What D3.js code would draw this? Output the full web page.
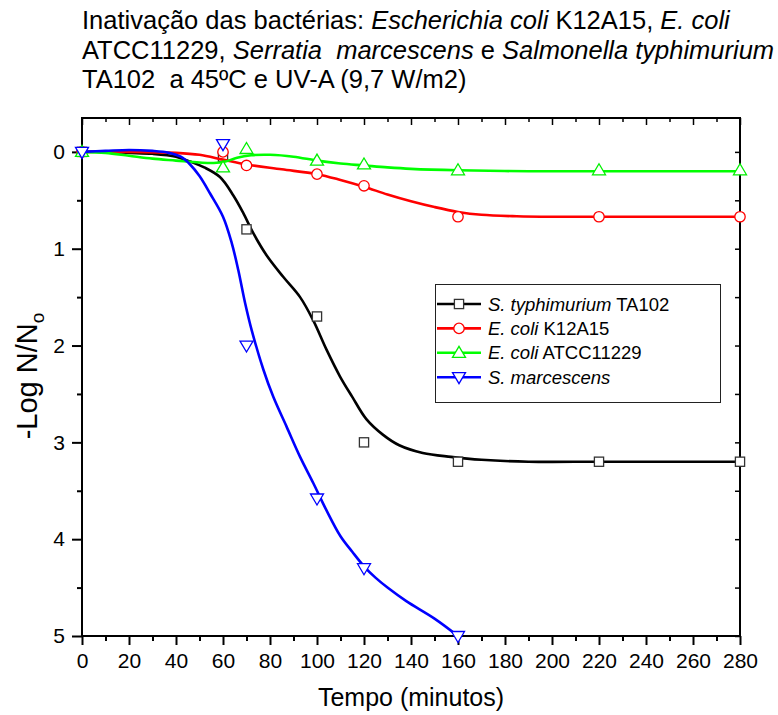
<!DOCTYPE html>
<html>
<head>
<meta charset="utf-8">
<script src="https://cdn.jsdelivr.net/npm/d3@7"></script>
<style>
  html, body { margin: 0; padding: 0; background: #fff; }
  svg text { font-family: "Liberation Sans", Arial, sans-serif; }
</style>
</head>
<body>
<svg id="chart" width="778" height="715"></svg>
<script>
// Sampling times (minutes) of the measured points
const timesTyphi = [0, 60, 70, 100, 120, 160, 220, 280];
const valuesTyphi = [0, 0.05, 0.8, 1.7, 3.0, 3.2, 3.2, 3.2];

const timesK12 = [0, 60, 70, 100, 120, 160, 220, 280];
const valuesK12 = [0, 0.0, 0.14, 0.23, 0.35, 0.67, 0.67, 0.67];

const timesATCC = [0, 60, 70, 100, 120, 160, 220, 280];
const valuesATCC = [0, 0.16, -0.03, 0.09, 0.13, 0.19, 0.19, 0.19];

const timesMarc = [0, 60, 70, 100, 120, 160];
const valuesMarc = [0, -0.08, 2.0, 3.58, 4.3, 5.0];

// Fitted curves (time, -log N/No)
const fitTyphiT = [0, 10, 20, 30, 40, 46, 52, 58.7, 64.4, 68.6, 72.9, 78.6, 85.6, 92.8, 98.4, 104, 109.8, 115, 121, 128, 135, 145, 157, 170, 190, 220, 250, 280];
const fitTyphiV = [0, 0.0, 0.01, 0.02, 0.05, 0.1, 0.16, 0.26, 0.45, 0.63, 0.84, 1.07, 1.29, 1.5, 1.74, 2.04, 2.32, 2.53, 2.76, 2.92, 3.03, 3.11, 3.15, 3.18, 3.2, 3.2, 3.2, 3.2];

const fitK12T = [0, 20, 40, 50, 60, 70, 85, 100, 110, 120, 130, 140, 150, 160, 170, 185, 200, 240, 280];
const fitK12V = [0, 0.0, 0.01, 0.03, 0.08, 0.13, 0.18, 0.23, 0.29, 0.36, 0.44, 0.51, 0.57, 0.62, 0.65, 0.665, 0.67, 0.67, 0.67];

const fitATCCT = [0, 10, 20, 30, 40, 50, 56, 61, 66, 72, 80, 90, 100, 110, 120, 130, 140, 160, 190, 220, 280];
const fitATCCV = [0, 0.01, 0.04, 0.07, 0.09, 0.11, 0.115, 0.1, 0.06, 0.035, 0.03, 0.05, 0.09, 0.12, 0.14, 0.16, 0.175, 0.19, 0.2, 0.2, 0.2];

const fitMarcT = [0, 10, 20, 30, 37, 42, 46, 50, 54.5, 60, 63.7, 66.5, 69.4, 72.2, 77.2, 81.4, 87.1, 92.8, 98.4, 104, 110, 115, 120, 125, 130, 138, 150, 160];
const fitMarcV = [0, -0.01, -0.02, -0.01, 0.01, 0.05, 0.13, 0.25, 0.43, 0.67, 0.94, 1.22, 1.56, 1.84, 2.25, 2.53, 2.84, 3.15, 3.42, 3.7, 3.97, 4.13, 4.28, 4.4, 4.5, 4.64, 4.82, 5.0];

const xTicks = [0, 20, 40, 60, 80, 100, 120, 140, 160, 180, 200, 220, 240, 260, 280];
const yTicks = [0, 1, 2, 3, 4, 5];

const series = [
  { label: ["S. typhimurium", " TA102"], color: "#000000", stroke: "#333333", symbol: "square",
    t: timesTyphi, v: valuesTyphi, ft: fitTyphiT, fv: fitTyphiV },
  { label: ["E. coli", " K12A15"], color: "#ff0000", stroke: "#ff0000", symbol: "circle",
    t: timesK12, v: valuesK12, ft: fitK12T, fv: fitK12V },
  { label: ["E. coli", " ATCC11229"], color: "#00ff00", stroke: "#00f000", symbol: "up",
    t: timesATCC, v: valuesATCC, ft: fitATCCT, fv: fitATCCV },
  { label: ["S. marcescens", ""], color: "#0000ff", stroke: "#0000ff", symbol: "down",
    t: timesMarc, v: valuesMarc, ft: fitMarcT, fv: fitMarcV }
];

(function draw() {
  const svg = d3.select("#chart");
  const pLeft = 82, pRight = 740, pTop = 118, pBottom = 636;

  const x = d3.scaleLinear().domain([0, 280]).range([pLeft, pRight]);
  const y = d3.scaleLinear().domain([-0.35, 5]).range([pTop, pBottom]);

  // Title
  const title = svg.append("g").attr("font-size", 25.5).attr("fill", "#000");
  const titleLines = [
    [["Inativação das bactérias: ", false], ["Escherichia coli", true], [" K12A15, ", false], ["E. coli", true]],
    [["ATCC11229, ", false], ["Serratia  marcescens", true], [" e ", false], ["Salmonella typhimurium", true]],
    [["TA102  a 45ºC e UV-A (9,7 W/m2)", false]]
  ];
  titleLines.forEach((parts, i) => {
    const t = title.append("text").attr("x", 82).attr("y", 29 + i * 29.5)
      .attr("xml:space", "preserve").style("white-space", "pre");
    parts.forEach(([s, it]) => t.append("tspan").attr("font-style", it ? "italic" : "normal").text(s));
  });

  // Frame
  svg.append("rect").attr("x", pLeft).attr("y", pTop).attr("width", pRight - pLeft).attr("height", pBottom - pTop)
    .attr("fill", "none").attr("stroke", "#000").attr("stroke-width", 2);

  const xMinor = d3.range(10, 280, 20);
  const yMinor = [0.5, 1.5, 2.5, 3.5, 4.5];

  // Bottom axis
  const gx = svg.append("g").attr("transform", `translate(0,${pBottom})`)
    .call(d3.axisBottom(x).tickValues(xTicks).tickSize(9).tickPadding(8).tickFormat(d3.format("d")));
  gx.select(".domain").remove();
  gx.selectAll("line").attr("stroke-width", 2);
  gx.selectAll("text").attr("font-size", 21).attr("font-family", "Liberation Sans, Arial, sans-serif");
  const gxm = svg.append("g").attr("transform", `translate(0,${pBottom})`)
    .call(d3.axisBottom(x).tickValues(xMinor).tickSize(5).tickFormat(""));
  gxm.select(".domain").remove();
  gxm.selectAll("line").attr("stroke-width", 2);

  // Left axis
  const gy = svg.append("g").attr("transform", `translate(${pLeft},0)`)
    .call(d3.axisLeft(y).tickValues(yTicks).tickSize(10).tickPadding(7).tickFormat(d3.format("d")));
  gy.select(".domain").remove();
  gy.selectAll("line").attr("stroke-width", 2);
  gy.selectAll("text").attr("font-size", 21).attr("font-family", "Liberation Sans, Arial, sans-serif");
  const gym = svg.append("g").attr("transform", `translate(${pLeft},0)`)
    .call(d3.axisLeft(y).tickValues(yMinor).tickSize(5).tickFormat(""));
  gym.select(".domain").remove();
  gym.selectAll("line").attr("stroke-width", 2);

  // Top and right mirror axes with inward ticks
  const gt = svg.append("g").attr("transform", `translate(0,${pTop})`)
    .call(d3.axisBottom(x).tickValues(xTicks).tickSize(7).tickFormat(""));
  gt.select(".domain").remove();
  gt.selectAll("line").attr("stroke-width", 1.5);
  const gtm = svg.append("g").attr("transform", `translate(0,${pTop})`)
    .call(d3.axisBottom(x).tickValues(xMinor).tickSize(4).tickFormat(""));
  gtm.select(".domain").remove();
  gtm.selectAll("line").attr("stroke-width", 1.5);
  const gr = svg.append("g").attr("transform", `translate(${pRight},0)`)
    .call(d3.axisLeft(y).tickValues(yTicks.concat(yMinor)).tickSize(5).tickFormat(""));
  gr.select(".domain").remove();
  gr.selectAll("line").attr("stroke-width", 1.5);

  // Axis titles
  svg.append("text").attr("x", 411).attr("y", 706).attr("text-anchor", "middle")
    .attr("font-size", 25).text("Tempo (minutos)");
  const yt = svg.append("text").attr("transform", "translate(37,376) rotate(-90)")
    .attr("text-anchor", "middle").attr("font-size", 29);
  yt.append("tspan").text("-Log N/N");
  yt.append("tspan").attr("font-size", 19).attr("dy", 7).text("o");

  // Marker symbols
  function drawMarker(g, s, cx, cy) {
    const common = el => el.attr("fill", "#fff").attr("stroke", s.stroke).attr("stroke-width", 1.3);
    if (s.symbol === "square") {
      common(g.append("rect").attr("x", cx - 4.6).attr("y", cy - 4.6).attr("width", 9.2).attr("height", 9.2));
    } else if (s.symbol === "circle") {
      common(g.append("circle").attr("cx", cx).attr("cy", cy).attr("r", 5.2));
    } else if (s.symbol === "up") {
      common(g.append("path").attr("d", `M${cx},${cy - 6.5}L${cx + 6.5},${cy + 4.5}L${cx - 6.5},${cy + 4.5}Z`));
    } else {
      common(g.append("path").attr("d", `M${cx},${cy + 6.5}L${cx + 6.5},${cy - 4.5}L${cx - 6.5},${cy - 4.5}Z`));
    }
  }

  const line = d3.line().x(d => x(d[0])).y(d => y(d[1])).curve(d3.curveCatmullRom.alpha(0.5));

  series.forEach(s => {
    const g = svg.append("g");
    const fit = s.ft.map((t, i) => [t, s.fv[i]]);
    g.append("path").datum(fit).attr("d", line).attr("fill", "none")
      .attr("stroke", s.color).attr("stroke-width", 2.6).attr("stroke-linejoin", "round");
    s.t.forEach((t, i) => drawMarker(g, s, x(t), y(s.v[i])));
  });

  // Legend
  const lg = svg.append("g");
  lg.append("rect").attr("x", 435.5).attr("y", 284.5).attr("width", 285).attr("height", 118)
    .attr("fill", "#fff").attr("stroke", "#222").attr("stroke-width", 1);
  series.forEach((s, i) => {
    const ly = 304 + i * 24.4;
    lg.append("line").attr("x1", 437).attr("x2", 481).attr("y1", ly).attr("y2", ly)
      .attr("stroke", s.color).attr("stroke-width", 2.6);
    drawMarker(lg, s, 459, ly);
    const t = lg.append("text").attr("x", 488).attr("y", ly + 6.5).attr("font-size", 18.5)
      .attr("xml:space", "preserve").style("white-space", "pre");
    t.append("tspan").attr("font-style", "italic").text(s.label[0]);
    if (s.label[1]) t.append("tspan").text(s.label[1]);
  });
})();
</script>
</body>
</html>
